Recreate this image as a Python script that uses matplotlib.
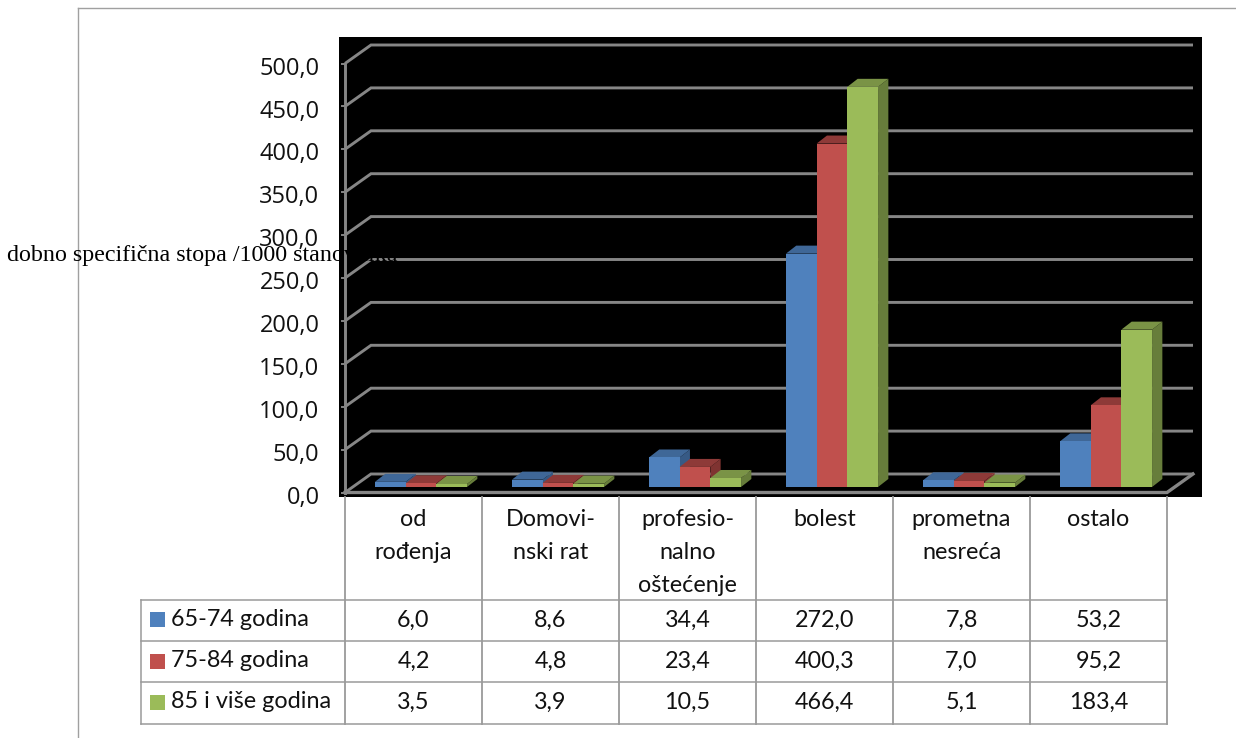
import matplotlib
matplotlib.use("Agg")
import matplotlib.pyplot as plt
from matplotlib.transforms import ScaledTranslation

categories = ["od\nrođenja", "Domovi-\nnski rat", "profesio-\nnalno\noštećenje",
              "bolest", "prometna\nnesreća", "ostalo"]
series_names = ["65-74 godina", "75-84 godina", "85 i više godina"]
values_65 = [6.0, 8.6, 34.4, 272.0, 7.8, 53.2]
values_75 = [4.2, 4.8, 23.4, 400.3, 7.0, 95.2]
values_85 = [3.5, 3.9, 10.5, 466.4, 5.1, 183.4]
y_ticks = [0, 50, 100, 150, 200, 250, 300, 350, 400, 450, 500]

front_colors = ["#4F81BD", "#C0504D", "#9BBB59"]
top_colors = ["#3F6797", "#8E3A38", "#7A9346"]
side_colors = ["#375A85", "#7F3331", "#677D3B"]
grid_color = "#868686"
table_color = "#9A9A9A"

W, H = 1236, 738
CAT_PX = 137.0
Y_SCALE = 0.858  # px per unit
LEFT, RIGHT, TOP, BOTTOM = 339, 1202, 37, 497
X0, Y0 = 345, 487


def fmt(v):
    return f"{v:.1f}".replace(".", ",")


fig = plt.figure(figsize=(W / 100, H / 100), dpi=100, facecolor="white")

# chart axes sit exactly on the black rectangle
ax = fig.add_axes([LEFT / W, 1 - BOTTOM / H, (RIGHT - LEFT) / W, (BOTTOM - TOP) / H])
ax.set_facecolor("black")
ax.set_xlim((LEFT - X0) / CAT_PX, (RIGHT - X0) / CAT_PX)
ax.set_ylim((Y0 - BOTTOM) / Y_SCALE, (Y0 - TOP) / Y_SCALE)
for s in ax.spines.values():
    s.set_visible(False)
ax.set_xticks([])
ax.set_yticks(y_ticks)
ax.set_yticklabels([fmt(t) for t in y_ticks], fontsize=17, family="Open Sans", color="#111111")
ax.tick_params(axis="y", length=0, pad=14)
off = ScaledTranslation(0, -5.5 / 72, fig.dpi_scale_trans)
for lab in ax.get_yticklabels():
    lab.set_transform(lab.get_transform() + off)

# wall and floor offsets, converted from pixels to data units
wall_dx = 26 / CAT_PX
wall_back = 13 / Y_SCALE
wall_front = -5.5 / Y_SCALE
n = len(categories)
for t in y_ticks:
    ax.plot([0, wall_dx, n + wall_dx], [t + wall_front, t + wall_back, t + wall_back],
            color=grid_color, lw=2.1, solid_capstyle="butt", solid_joinstyle="miter", zorder=1)
    ax.plot([-3 / CAT_PX, 0], [t + wall_front, t + wall_front], color=grid_color, lw=1.4, zorder=1)
ax.plot([0, 0], [y_ticks[0] + wall_front, y_ticks[-1] + wall_front], color=grid_color, lw=2.1, zorder=1)
ax.plot([0, n, n + wall_dx], [wall_front, wall_front, wall_back], color=grid_color, lw=2.4,
        solid_joinstyle="miter", zorder=1)

# bars with a fake depth
bar_w = 30.7 / CAT_PX
depth_x = 10.3 / CAT_PX
depth_y = 8 / Y_SCALE
group_shift = 7.5 / CAT_PX
all_values = [values_65, values_75, values_85]
z = 3
for i in range(n):
    for j, vals in enumerate(all_values):
        x0 = i + 0.5 + group_shift + (j - 1.5) * bar_w
        x1 = x0 + bar_w
        v = vals[i]
        ax.fill([x1, x1 + depth_x, x1 + depth_x, x1], [0, depth_y, v + depth_y, v],
                color=side_colors[j], lw=0, zorder=z)
        ax.fill([x0, x1, x1 + depth_x, x0 + depth_x], [v, v, v + depth_y, v + depth_y],
                color=top_colors[j], lw=0, zorder=z)
        ax.bar(x0, v, width=bar_w, align="edge", color=front_colors[j], lw=0, zorder=z)
        z += 1

# overlay in pixel units for the data table and the frame
ov = fig.add_axes([0, 0, 1, 1], facecolor="none")
ov.set_xlim(0, W)
ov.set_ylim(H, 0)
ov.axis("off")

ov.plot([78, 78], [8, H], color="#A0A0A0", lw=1.0)
ov.plot([78, W], [8, 8], color="#A0A0A0", lw=1.0)

col_x = [X0 + CAT_PX * i for i in range(n + 1)]
row_y = [599.5, 641, 682, 723.5]
table_left = 141
for x in col_x:
    ov.plot([x, x], [BOTTOM, row_y[-1]], color=table_color, lw=1.3, zorder=2)
for y in row_y:
    ov.plot([table_left, col_x[-1]], [y, y], color=table_color, lw=1.1, zorder=2)
ov.plot([table_left, table_left], [row_y[0], row_y[-1]], color=table_color, lw=1.1, zorder=2)

line_step = 32.5
for i, name in enumerate(categories):
    for k, part in enumerate(name.split("\n")):
        ov.text(col_x[i] + CAT_PX / 2, 520 + k * line_step, part, ha="center", va="center",
                fontsize=16.8, family="Lato", color="#111111")

for r, vals in enumerate(all_values):
    yc = (row_y[r] + row_y[r + 1]) / 2
    ov.fill([150, 165, 165, 150], [yc - 8, yc - 8, yc + 7, yc + 7], color=front_colors[r], lw=0)
    ov.text(171, yc - 1, series_names[r], ha="left", va="center", fontsize=16.8, family="Lato", color="#111111")
    for i, v in enumerate(vals):
        ov.text(col_x[i] + CAT_PX / 2, yc, fmt(v), ha="center", va="center", fontsize=16.8,
                family="Lato", color="#111111")

ov.text(7, 255, "dobno specifična stopa /1000 stanovnika", ha="left", va="center", fontsize=17.3,
        family="Liberation Serif", color="black", zorder=10)

fig.savefig("out.png", dpi=100)
